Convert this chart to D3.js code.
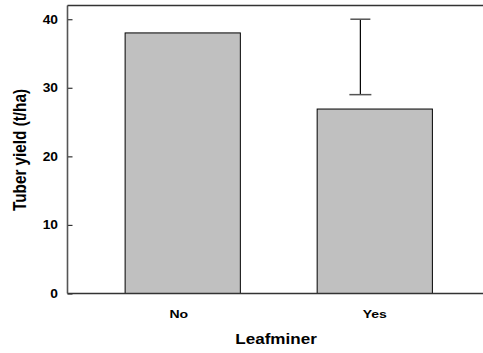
<!DOCTYPE html>
<html><head><meta charset="utf-8">
<script src="https://cdn.jsdelivr.net/npm/d3@7"></script>
<style>body{margin:0;background:#fff}svg{display:block}text{font-family:"Liberation Sans",Arial,sans-serif;font-weight:bold;fill:#000}</style>
</head><body>
<svg id="c" width="483" height="353"></svg>
<script>
const categories = ["No", "Yes"];
const yieldValues = [38, 26.9];
const errLow = [null, 29];
const errHigh = [null, 40];
const yTicks = [0, 10, 20, 30, 40];
const xTitle = "Leafminer";
const yTitle = "Tuber yield (t/ha)";

const svg = d3.select("#c");
const L = 67.5, T = 5.5, B = 293.5, R = 483;
const SX = 1.22; // horizontal stretch of lettering in the reference
const x = d3.scaleBand().domain(categories).range([L, 490]).paddingInner(0.4).paddingOuter(0.3);
const y = d3.scaleLinear().domain([0, 42]).range([B, T]);

// bars
svg.append("g").selectAll("rect").data(categories).join("rect")
  .attr("x", d => x(d)).attr("width", x.bandwidth())
  .attr("y", (d, i) => y(yieldValues[i])).attr("height", (d, i) => B - y(yieldValues[i]))
  .attr("fill", "#c0c0c0").attr("stroke", "#000").attr("stroke-width", 1);

// error bars
const eg = svg.append("g");
categories.forEach((c, i) => {
  if (errLow[i] == null) return;
  const cx = x(c) + x.bandwidth() * 0.375;
  eg.append("line").attr("x1", cx).attr("x2", cx).attr("y1", y(errHigh[i])).attr("y2", y(errLow[i])).attr("stroke", "#000").attr("stroke-width", 1.2);
  eg.append("line").attr("x1", cx - 10).attr("x2", cx + 10).attr("y1", y(errHigh[i])).attr("y2", y(errHigh[i])).attr("stroke", "#555").attr("stroke-width", 1.5);
  eg.append("line").attr("x1", cx - 11).attr("x2", cx + 11).attr("y1", y(errLow[i])).attr("y2", y(errLow[i])).attr("stroke", "#555").attr("stroke-width", 1.5);
});

// y axis
const ya = svg.append("g").attr("transform", `translate(${L},0)`)
  .call(d3.axisLeft(y).tickValues(yTicks).tickSize(-5).tickPadding(10).tickFormat(d3.format("d")));
ya.select(".domain").remove();
ya.selectAll(".tick line").attr("stroke", "#333").attr("stroke-width", 1.2);
ya.selectAll(".tick text")
  .attr("x", -9.5 / 1.15).attr("transform", "scale(1.15,1)")
  .attr("font-size", 12).attr("font-family", "Liberation Sans, Arial, sans-serif").attr("font-weight", "bold").attr("fill", "#000");

// frame lines
svg.append("line").attr("x1", L).attr("x2", L).attr("y1", T).attr("y2", B).attr("stroke", "#555").attr("stroke-width", 1.6);
svg.append("line").attr("x1", L).attr("x2", R).attr("y1", T).attr("y2", T).attr("stroke", "#333").attr("stroke-width", 1.5);
svg.append("line").attr("x1", L).attr("x2", R).attr("y1", B).attr("y2", B).attr("stroke", "#333").attr("stroke-width", 1.5);

// x labels
svg.append("g").selectAll("text").data(categories).join("text")
  .attr("transform", d => `translate(${x(d) + x.bandwidth() / 2 - (d === "No" ? 4 : 0)},318) scale(${SX},1)`)
  .attr("text-anchor", "middle").attr("font-size", 11.5).text(d => d);

svg.append("text").attr("transform", `translate(276,344) scale(${SX},1)`).attr("text-anchor", "middle").attr("font-size", 14).text(xTitle);
svg.append("text").attr("transform", `translate(26,150) scale(${SX},1) rotate(-90)`).attr("text-anchor", "middle").attr("font-size", 15.3).text(yTitle);
</script>
</body></html>
